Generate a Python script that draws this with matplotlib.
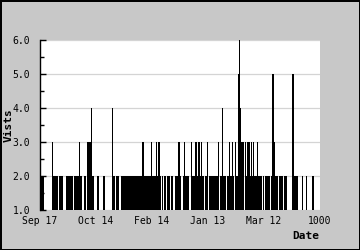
import numpy as np
import matplotlib
matplotlib.use("Agg")
import matplotlib.pyplot as plt

# visits per pixel column (1 = no extra visit)
visits = ("2222" "11111111" "3" "22222" "1" "2222" "111" "2222222" "1" "22222"
          "3" "22" "11" "22" "1" "3333" "4" "22" "111" "22" "1111" "22"
          "1111111" "4" "22" "1" "222" "11" "222222222222222222222" "33"
          "2222222" "3" "2222" "3" "2" "33" "2" "1" "2" "1" "22" "1" "222"
          "1" "22" "11" "222" "33" "2" "11" "2" "3" "2222" "11" "3" "222"
          "33233" "2" "3" "22" "1" "22" "3" "1" "222222222" "3" "1" "22"
          "4" "222" "1" "22" "3" "22" "3" "2" "1" "3" "22" "5" "6" "4"
          "333" "1" "3" "2" "333" "2" "3" "2" "3" "222" "3" "2222" "1" "2"
          "1" "22222" "1" "2" "55" "3" "222" "1" "2222" "1" "222" "11111"
          "55" "2222" "1111" "2" "111" "2" "11111" "22" "111111")
vals = np.array([int(c) for c in visits], dtype=float)

xticks = [0, 200, 400, 600, 800, 1000]
xlabels = ["Sep 17", "Oct 14", "Feb 14", "Jan 13", "Mar 12", "1000"]
yticks = [1.0, 2.0, 3.0, 4.0, 5.0, 6.0]

mono = "DejaVu Sans Mono"

fig = plt.figure(figsize=(3.6, 2.5), dpi=100, facecolor="#c8c8c8")
fig.patch.set_edgecolor("black")
fig.patch.set_linewidth(2)

ax = fig.add_axes([40/360, 40/250, 280/360, 170/250])
ax.set_facecolor("white")

edges = np.linspace(0, 1000, len(vals) + 1)
ax.stairs(vals, edges, baseline=1.0, fill=True, color="black", linewidth=0)

ax.set_xlim(0, 1000)
ax.set_ylim(1.0, 6.0)
ax.set_axisbelow(True)
ax.grid(axis="y", color="#d4d4d4", linewidth=0.9)

for s in ["top", "right", "bottom"]:
    ax.spines[s].set_visible(False)
ax.spines["left"].set_linewidth(1.0)

ax.set_yticks(yticks)
ax.set_yticklabels(["%.1f" % t for t in yticks], fontfamily=mono, fontsize=7)
ax.set_yticks(np.arange(1.5, 6.0, 1.0), minor=True)
ax.tick_params(axis="y", which="major", direction="in", length=4, width=1, pad=7)
ax.tick_params(axis="y", which="minor", direction="in", length=3, width=1)

ax.set_xticks(xticks)
ax.set_xticklabels(xlabels, fontfamily=mono, fontsize=7)
ax.tick_params(axis="x", length=0, pad=4)

fig.text(9/360, 1 - 125/250, "Vists", rotation=90, ha="center", va="center",
         fontfamily=mono, fontweight="bold", fontsize=8)
fig.text(319/360, 1 - 236/250, "Date", ha="right", va="center",
         fontfamily=mono, fontweight="bold", fontsize=8)

fig.savefig("out.png", dpi=100, facecolor=fig.get_facecolor(),
            edgecolor=fig.patch.get_edgecolor())
